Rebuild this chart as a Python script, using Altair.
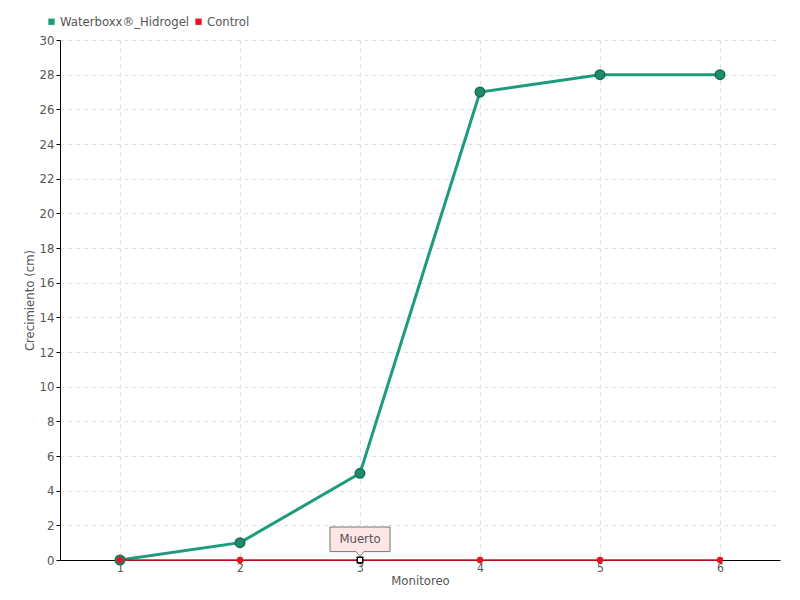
import altair as alt
import pandas as pd

monitoreo = [1, 2, 3, 4, 5, 6]
waterboxx = [0, 1, 5, 27, 28, 28]
control = [0, 0, 0, 0, 0, 0]
series_names = ["Waterboxx®_Hidrogel", "Control"]
colors = ["#1c9c7c", "#ee1122"]
annot_x = [3]
annot_y = [0]
annot_text = ["Muerto"]

df = pd.DataFrame({
    "Monitoreo": monitoreo * 2,
    "Crecimiento": waterboxx + control,
    "Serie": [series_names[0]] * 6 + [series_names[1]] * 6,
})
dfg = df[df["Serie"] == series_names[0]]
dfr = df[df["Serie"] == series_names[1]]
dfa = pd.DataFrame({"Monitoreo": annot_x, "Crecimiento": annot_y, "t": annot_text})

FONT = "DejaVu Sans Condensed"
TXT = "#555555"

xs = alt.Scale(domain=[0.5, 6.5], nice=False, zero=False)
ys = alt.Scale(domain=[0, 30], nice=False)

x_enc = alt.X("Monitoreo:Q", scale=xs,
              axis=alt.Axis(values=monitoreo, title="Monitoreo", format="d",
                            grid=True, gridDash=[4, 4], gridColor="#dddddd",
                            domainColor="#000000", tickColor="#cccccc", tickSize=5,
                            labelPadding=-3, labelColor=TXT, labelFont=FONT, labelFontSize=12,
                            titleFont=FONT, titleFontSize=13, titleColor=TXT,
                            titleFontWeight="normal", titlePadding=1))
y_enc = alt.Y("Crecimiento:Q", scale=ys,
              axis=alt.Axis(values=list(range(0, 31, 2)), title="Crecimiento (cm)",
                            grid=True, gridDash=[4, 4], gridColor="#dddddd",
                            domainColor="#000000", tickColor="#000000", tickSize=4,
                            labelOverlap=False, labelBound=False, labelFlush=False,
                            labelColor=TXT, labelFont=FONT, labelFontSize=13,
                            titleFont=FONT, titleFontSize=13, titleColor=TXT,
                            titleFontWeight="normal", titlePadding=3))

line_g = alt.Chart(dfg).mark_line(strokeWidth=3, color=colors[0]).encode(x=x_enc, y=y_enc)
line_r = alt.Chart(dfr).mark_line(strokeWidth=1.5, color=colors[1]).encode(x=x_enc, y=y_enc)

pts = alt.Chart(df).mark_circle(size=35, opacity=1).encode(
    x=x_enc, y=y_enc,
    color=alt.Color("Serie:N", scale=alt.Scale(domain=series_names, range=["#1c9c7c", "#ee1122"]),
                    legend=alt.Legend(title=None, orient="none", legendX=-15, legendY=-25,
                                      direction="horizontal", symbolType="square",
                                      symbolSize=40, labelFont=FONT, labelFontSize=13,
                                      labelColor=TXT, columnPadding=2, symbolStrokeWidth=0,
                                      labelOffset=2)),
)

pts_g = alt.Chart(dfg).mark_circle(
    size=90, color="#1e8c6c", stroke="#176b53", strokeWidth=1.5, opacity=1
).encode(x=x_enc, y=y_enc)

pts_r = alt.Chart(dfr).mark_circle(size=40, color="#ee1122", opacity=1).encode(x=x_enc, y=y_enc)

box_path = "M-1,-1.1 L1,-1.1 L1,-0.28 L0.13,-0.28 L0,-0.12 L-0.13,-0.28 L-1,-0.28 Z"
box = alt.Chart(dfa).mark_point(
    shape=box_path, size=3600, filled=True, fill="#fde6e6", stroke="#777777",
    strokeWidth=1, opacity=1
).encode(x=x_enc, y=y_enc)

txt = alt.Chart(dfa).mark_text(
    font=FONT, fontSize=13, color=TXT, dy=-21
).encode(x=x_enc, y=y_enc, text="t:N")

sq = alt.Chart(dfa).mark_point(
    shape="square", size=30, filled=True, fill="white", stroke="black", strokeWidth=1.5, opacity=1
).encode(x=x_enc, y=y_enc)

chart = alt.layer(line_g, line_r, pts, pts_g, pts_r, box, txt, sq).properties(
    width=720, height=520,
    padding={"left": 52, "top": 32, "right": 12, "bottom": 32},
    autosize=alt.AutoSizeParams(type="none"),
    background="white",
).configure_view(stroke=None)

chart.save("out.html", embed_options={"renderer": "svg", "actions": False})
